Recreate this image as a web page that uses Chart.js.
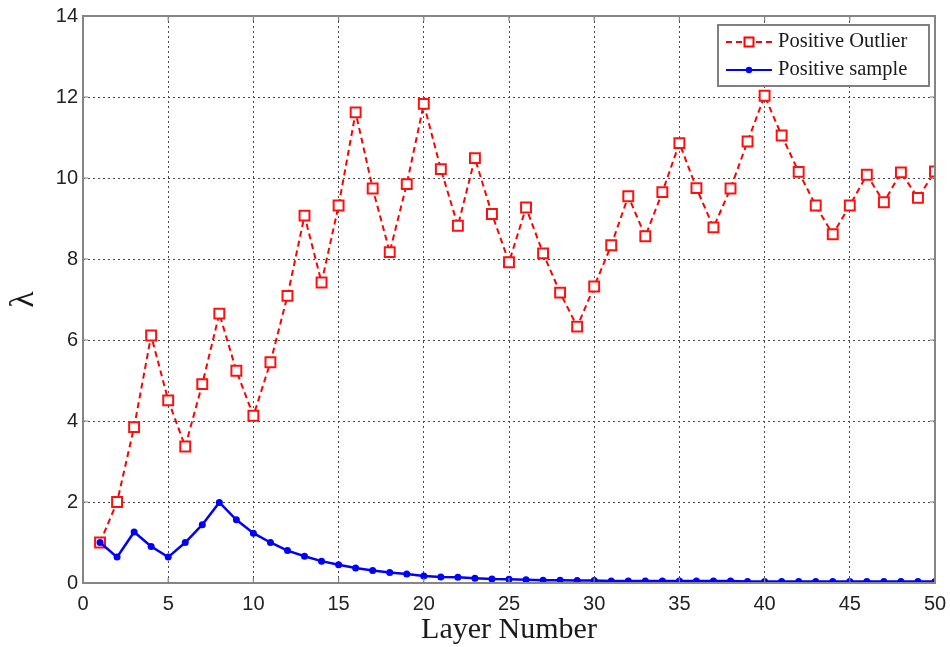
<!DOCTYPE html>
<html>
<head>
<meta charset="utf-8">
<script src="https://cdn.jsdelivr.net/npm/chart.js@4/dist/chart.umd.min.js"></script>
<style>
html,body{margin:0;padding:0;background:#fff;}
#wrap{width:950px;height:647px;position:relative;}
</style>
</head>
<body>
<div id="wrap"><canvas id="c" width="950" height="647"></canvas></div>
<script>
const layers = [1,2,3,4,5,6,7,8,9,10,11,12,13,14,15,16,17,18,19,20,21,22,23,24,25,26,27,28,29,30,31,32,33,34,35,36,37,38,39,40,41,42,43,44,45,46,47,48,49,50];
const positiveOutlier = [1.0,2.0,3.85,6.11,4.51,3.37,4.91,6.65,5.24,4.13,5.45,7.09,9.07,7.42,9.32,11.62,9.74,8.17,9.85,11.83,10.22,8.82,10.49,9.11,7.92,9.27,8.14,7.17,6.33,7.32,8.34,9.55,8.56,9.65,10.86,9.75,8.78,9.74,10.9,12.03,11.05,10.15,9.32,8.61,9.32,10.08,9.4,10.14,9.51,10.16];
const positiveSample = [1.0,0.64,1.26,0.9,0.64,1.0,1.44,1.99,1.56,1.23,1.0,0.8,0.66,0.54,0.45,0.37,0.31,0.26,0.22,0.17,0.15,0.14,0.12,0.1,0.09,0.08,0.07,0.07,0.06,0.06,0.05,0.05,0.05,0.05,0.05,0.05,0.05,0.05,0.04,0.04,0.04,0.04,0.04,0.04,0.04,0.04,0.04,0.04,0.04,0.04];
const xTicks = [0,5,10,15,20,25,30,35,40,45,50];
const yTicks = [0,2,4,6,8,10,12,14];
const seriesLabels = ["Positive Outlier","Positive sample"];
const xTitle = "Layer Number";
const yTitle = "\u03BB";

const toXY = (arr) => layers.map((x,i)=>({x:x,y:arr[i]}));

const framePlugin = {
  id:'frame',
  afterDraw(chart){
    const {ctx, chartArea:a, scales} = chart;
    ctx.save();
    ctx.strokeStyle = '#858585';
    ctx.lineWidth = 2;
    ctx.setLineDash([]);
    ctx.strokeRect(a.left, a.top, a.right-a.left, a.bottom-a.top);
    ctx.lineWidth = 1.2;
    ctx.beginPath();
    xTicks.forEach(v=>{
      const px = scales.x.getPixelForValue(v);
      ctx.moveTo(px,a.bottom); ctx.lineTo(px,a.bottom-5);
      ctx.moveTo(px,a.top); ctx.lineTo(px,a.top+5);
    });
    yTicks.forEach(v=>{
      const py = scales.y.getPixelForValue(v);
      ctx.moveTo(a.left,py); ctx.lineTo(a.left+5,py);
      ctx.moveTo(a.right,py); ctx.lineTo(a.right-5,py);
    });
    ctx.stroke();

    // legend
    const bx = 718, by = 25, bw = 211, bh = 61;
    ctx.fillStyle = '#fff';
    ctx.fillRect(bx,by,bw,bh);
    ctx.strokeStyle = '#808080';
    ctx.lineWidth = 2;
    ctx.strokeRect(bx,by,bw,bh);
    const rows = [42, 70];
    chart.data.datasets.forEach((ds,i)=>{
      const y = rows[i];
      ctx.strokeStyle = ds.borderColor;
      ctx.lineWidth = 2;
      ctx.setLineDash(ds.borderDash || []);
      ctx.beginPath(); ctx.moveTo(726,y); ctx.lineTo(772,y); ctx.stroke();
      ctx.setLineDash([]);
      if (i===0){
        ctx.fillStyle = '#fff';
        ctx.fillRect(744.5,y-4.5,9,9);
        ctx.lineWidth = 2;
        ctx.strokeRect(744.5,y-4.5,9,9);
      } else {
        ctx.fillStyle = ds.pointBackgroundColor;
        ctx.beginPath(); ctx.arc(749,y,3.2,0,Math.PI*2); ctx.fill();
      }
      ctx.fillStyle = '#1a1a1a';
      ctx.font = '20.5px "Liberation Serif", "Times New Roman", serif';
      ctx.textBaseline = 'middle';
      ctx.textAlign = 'left';
      ctx.fillText(ds.label, 778, y);
    });
    ctx.restore();
  }
};

new Chart(document.getElementById('c'), {
  type:'line',
  data:{
    datasets:[
      {
        label: seriesLabels[0],
        data: toXY(positiveOutlier),
        borderColor:'#ff0000',
        backgroundColor:'#ffffff',
        borderWidth:2,
        borderDash:[6,4],
        pointStyle:'rect',
        pointRadius:7,
        pointBorderWidth:2,
        pointBorderColor:'#ff1010',
        pointBackgroundColor:'#ffffff',
        tension:0,
        order:2
      },
      {
        label: seriesLabels[1],
        data: toXY(positiveSample),
        borderColor:'#0000ff',
        backgroundColor:'#0000ff',
        borderWidth:2.5,
        pointStyle:'circle',
        pointRadius:3.5,
        pointBorderWidth:0,
        pointBackgroundColor:'#0000ff',
        tension:0,
        order:1
      }
    ]
  },
  options:{
    responsive:false,
    animation:false,
    layout:{padding:{left:0,top:16,right:15,bottom:0}},
    plugins:{legend:{display:false},tooltip:{enabled:false}},
    scales:{
      x:{
        type:'linear', min:0, max:50,
        afterBuildTicks(s){ s.ticks = xTicks.map(v=>({value:v})); },
        afterFit(s){ s.height = 64; s.paddingRight = 0; s.paddingLeft = 0; },
        grid:{color:'#4a4a4a', lineWidth:1, drawTicks:false},
        border:{display:false, dash:[2,3]},
        ticks:{padding:9, color:'#222', font:{family:'"Liberation Sans", Arial, sans-serif', size:20}, maxRotation:0},
        title:{display:true, text:xTitle, color:'#1a1a1a', font:{family:'"Liberation Serif", "Times New Roman", serif', size:30}, padding:{top:0,bottom:-1}}
      },
      y:{
        type:'linear', min:0, max:14,
        afterBuildTicks(s){ s.ticks = yTicks.map(v=>({value:v})); },
        afterFit(s){ s.width = 83; s.paddingTop = 0; s.paddingBottom = 0; },
        grid:{color:'#4a4a4a', lineWidth:1, drawTicks:false},
        border:{display:false, dash:[2,3]},
        ticks:{padding:5, color:'#222', font:{family:'"Liberation Sans", Arial, sans-serif', size:20}},
        title:{display:true, text:yTitle, color:'#1a1a1a', font:{family:'"Liberation Serif", "Times New Roman", serif', size:34}, padding:{top:4,bottom:0}}
      }
    }
  },
  plugins:[framePlugin]
});
</script>
</body>
</html>
